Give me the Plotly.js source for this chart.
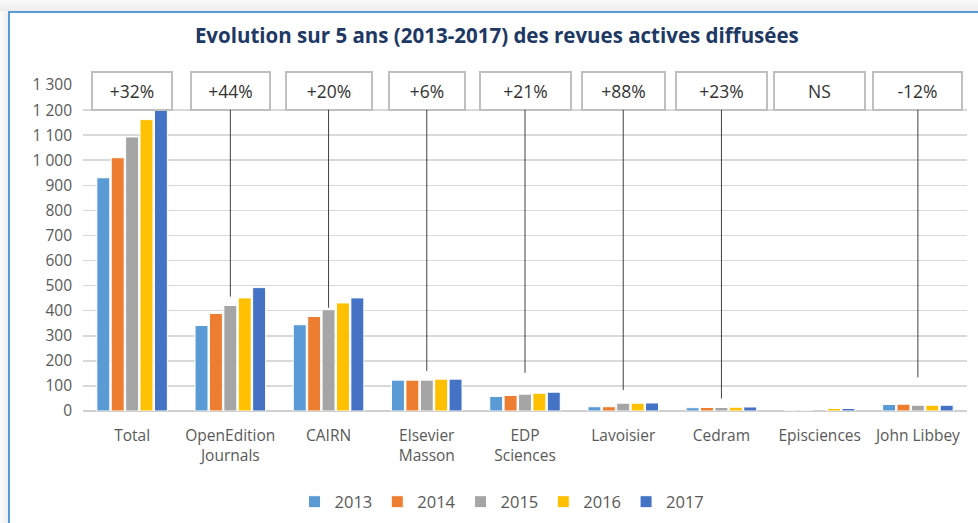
<!DOCTYPE html>
<html>
<head>
<meta charset="utf-8">
<script src="https://cdn.plot.ly/plotly-3.0.1.min.js"></script>
<style>
  html, body { margin: 0; padding: 0; width: 978px; height: 523px; overflow: hidden; background: #ffffff; }
  #topband { position: absolute; left: 0; top: 0; width: 978px; height: 11px;
             background: linear-gradient(#fbfbfb, #ececec); }
  #leftband { position: absolute; left: 0; top: 11px; width: 8px; height: 512px;
              background: linear-gradient(to right, #fbfbfb, #efefef); }
  #frame { position: absolute; left: 8px; top: 11px; width: 980px; height: 520px;
           border-left: 2px solid #5b9bd5; border-top: 2px solid #5b9bd5; background: #ffffff; }
  #chart { position: absolute; left: 0; top: 0; width: 978px; height: 523px; }
</style>
</head>
<body>
<div id="topband"></div>
<div id="leftband"></div>
<div id="frame"></div>
<div id="chart"></div>
<script>
// ---- data ----
const categories = ["Total", "OpenEdition<br>Journals", "CAIRN", "Elsevier<br>Masson", "EDP<br>Sciences",
                    "Lavoisier", "Cedram", "Episciences", "John Libbey"];
const years = ["2013", "2014", "2015", "2016", "2017"];
const v2013 = [930, 341, 344, 123, 58, 17, 13, 0, 26];
const v2014 = [1010, 389, 377, 123, 62, 17, 14, 0, 27];
const v2015 = [1093, 421, 404, 123, 67, 31, 14, 6, 23];
const v2016 = [1162, 451, 431, 127, 71, 31, 15, 10, 23];
const v2017 = [1226, 492, 451, 127, 75, 32, 16, 10, 23];
const changeLabels = ["+32%", "+44%", "+20%", "+6%", "+21%", "+88%", "+23%", "NS", "-12%"];
const leaderEnd = [null, 456, 412, 160, 152, 83, 50, null, 134];

const colors = ["#5b9bd5", "#ed7d31", "#a5a5a5", "#ffc000", "#4472c4"];
const series = [v2013, v2014, v2015, v2016, v2017];

const traces = series.map((vals, i) => ({
  type: "bar",
  name: years[i],
  x: categories,
  y: vals,
  marker: { color: colors[i], line: { color: "#ffffff", width: 1 } },
  hoverinfo: "x+y+name"
}));

const boxY = 1277;
const boxWidths = [76, 75, 82, 72, 87, 79, 87, 87, 85];
const annotations = changeLabels.map((t, i) => {
  const base = {
    text: t,
    font: { family: "Open Sans, sans-serif", size: 17.5, color: "#333333" },
    bgcolor: "#ffffff",
    bordercolor: "#bfbfbf",
    borderwidth: 2,
    borderpad: 1,
    width: boxWidths[i],
    height: 34,
    valign: "middle",
    xref: "x", yref: "y"
  };
  if (leaderEnd[i] === null) {
    return Object.assign(base, { x: i, y: boxY, showarrow: false });
  }
  return Object.assign(base, {
    x: i, y: leaderEnd[i],
    ax: i, ay: boxY, axref: "x", ayref: "y",
    showarrow: true, arrowhead: 0, arrowwidth: 1, arrowcolor: "#404040", standoff: 0, startstandoff: 0
  });
});

const layout = {
  width: 978, height: 523,
  margin: { l: 83, r: 11, t: 85, b: 112, autoexpand: false },
  paper_bgcolor: "rgba(0,0,0,0)",
  plot_bgcolor: "rgba(0,0,0,0)",
  separators: ", ",
  title: {
    text: "<b>Evolution sur 5 ans (2013-2017) des revues actives diffusées</b>",
    font: { family: "Open Sans, sans-serif", size: 20.5, color: "#203864" },
    x: 0.508, xanchor: "center", xref: "container",
    y: 0.931, yanchor: "middle", yref: "container"
  },
  barmode: "group",
  bargap: 0.267,
  bargroupgap: 0.1,
  showlegend: true,
  legend: {
    orientation: "h",
    x: 0.474, xanchor: "center",
    y: -0.279, yanchor: "middle",
    font: { family: "Open Sans, sans-serif", size: 16.5, color: "#595959" },
    itemwidth: 30,
    traceorder: "normal"
  },
  xaxis: {
    type: "category",
    tickfont: { family: "Open Sans, sans-serif", size: 15.5, color: "#595959" },
    ticks: "",
    ticklabelstandoff: 13,
    showgrid: false,
    showline: false,
    zeroline: false,
    fixedrange: true
  },
  yaxis: {
    range: [0, 1300],
    dtick: 100,
    tick0: 0,
    tickformat: ",d",
    tickfont: { family: "Open Sans, sans-serif", size: 15.5, color: "#595959" },
    ticks: "",
    ticklabelstandoff: 10,
    showgrid: true,
    gridcolor: "#d9d9d9",
    gridwidth: 1.5,
    zeroline: true,
    zerolinecolor: "#d0d0d0",
    zerolinewidth: 1.5,
    showline: false,
    fixedrange: true
  },
  annotations: annotations
};

Plotly.newPlot("chart", traces, layout, { displayModeBar: false, staticPlot: true });
</script>
</body>
</html>
